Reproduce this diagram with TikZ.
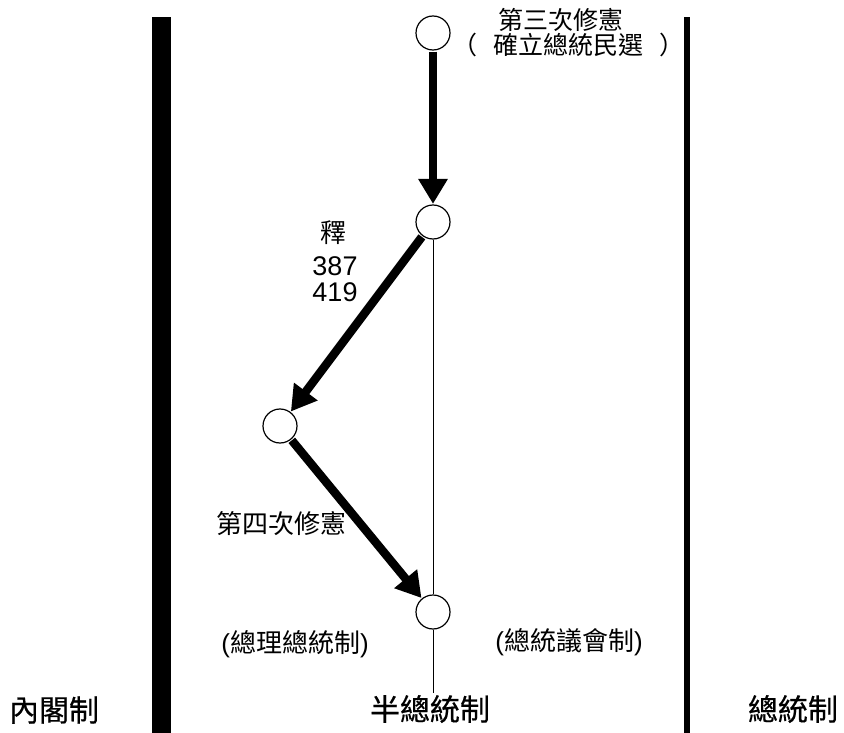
\documentclass[tikz,border=0pt]{standalone}
\usepackage{fontspec}
\setmainfont{Liberation Sans}
\newfontfamily\cjk{Noto Sans CJK TC}
\newfontfamily\cjkb[FakeBold=0.5]{Noto Sans CJK TC}
\usetikzlibrary{arrows.meta}
\begin{document}
\begin{tikzpicture}[x=1pt,y=-1pt,
  stage/.style={circle,draw,line width=1.2pt,minimum size=34pt,inner sep=0pt,fill=white},
  bigarrow/.style={line width=8.5pt,-{Triangle[length=25pt,width=28pt]},shorten <=1pt,shorten >=0.5pt},
  lbl/.style={inner sep=0pt,align=center}]
\useasboundingbox (0,0) rectangle (844,733);
% system bars
\fill (152,17) rectangle (171,733);
\fill (684,17) rectangle (690,733);
% stages
\node[stage] (s1) at (433,33) {};
\node[stage] (s2) at (433,222) {};
\node[stage] (s3) at (280,426) {};
\node[stage] (s4) at (433,612) {};
\coordinate (bottom) at (433,693);
% thin axis
\draw[line width=1pt] (s2) -- (s4);
\draw[line width=1pt] (s4) -- (bottom);
% arrows
\draw[bigarrow] (s1) -- (s2);
\draw[bigarrow] (s2) -- (s3);
\draw[bigarrow] (s3) -- (s4);
% labels
\node[lbl] (t1) at (561,20) {\fontsize{25}{28}\selectfont\cjk 第三次修憲};
\node[lbl] (t2) at (568,45) {\fontsize{25}{28}\selectfont\cjk （\hspace{16pt}確立總統民選\hspace{16pt}）};
\node[lbl] (t3) at (333,233) {\fontsize{26}{28}\selectfont\cjk 釋};
\node[lbl] (t4) at (335,266) {\fontsize{27}{28}\selectfont 387};
\node[lbl] (t5) at (335,292) {\fontsize{27}{28}\selectfont 419};
\node[lbl] (t6) at (281,524) {\fontsize{26}{28}\selectfont\cjk 第四次修憲};
\node[lbl] (t7) at (295,644) {\fontsize{26}{28}\selectfont ({\cjk 總理總統制})};
\node[lbl] (t8) at (569,642) {\fontsize{26}{28}\selectfont ({\cjk 總統議會制})};
\node[lbl] (b1) at (54,710) {\fontsize{30}{32}\selectfont\cjkb 內閣制};
\node[lbl] (b2) at (430,709) {\fontsize{30}{32}\selectfont\cjkb 半總統制};
\node[lbl] (b3) at (793,709) {\fontsize{30}{32}\selectfont\cjkb 總統制};
\end{tikzpicture}
\end{document}
